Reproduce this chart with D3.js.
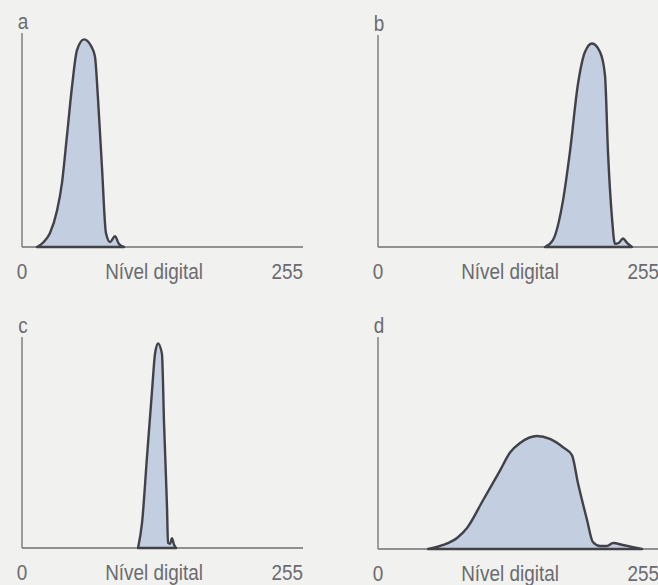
<!DOCTYPE html>
<html>
<head>
<meta charset="utf-8">
<script src="https://cdn.jsdelivr.net/npm/d3@7"></script>
<style>
  html, body { margin: 0; padding: 0; background: #f1f1f0; }
  svg { display: block; }
  text { font-family: "Liberation Sans", Arial, sans-serif; fill: #6b6b6e; }
</style>
</head>
<body>
<div id="plot"></div>
<script>
// histogram outlines, digital number vs relative frequency (% of axis height)
const dnA = [13.6, 19, 25.4, 31.8, 36.3, 40.8, 45.4, 49.9, 56.3, 62.6, 66.2, 69, 72.6, 76.2, 79.9, 84.4, 88, 92.6];
const freqA = [0, 2, 6.5, 17, 30, 52, 75, 92, 97, 94, 89, 69, 37, 6.5, 2.3, 5, 1.4, 0];

const dnB = [151.5, 158.8, 167.9, 174.2, 181.5, 187.8, 194.2, 201.5, 206, 208.7, 212.3, 215, 218.7, 222.3, 226, 230.5];
const freqB = [0, 3.3, 22, 45, 77, 92, 96, 92, 81, 45, 14, 1.5, 2, 4, 2, 0];

const dnC = [105.3, 108.9, 113.4, 118, 120.7, 123.4, 127, 128.9, 131.6, 132.5, 134.3, 136.1, 138, 139.8];
const freqC = [0, 11.8, 43, 74.5, 92, 97, 92, 59, 19.3, 2.4, 2, 4.7, 1.5, 0];

const dnD = [45.4, 59, 71.7, 80.8, 95.3, 110.7, 119.8, 128.9, 144.3, 156, 167.9, 176, 181.5, 189.7, 195, 201.5, 207.8, 213.3, 222.3, 231.4, 239.6];
const freqD = [0, 1.9, 5.2, 9.9, 23, 37, 45.5, 50, 53.3, 51.9, 48, 44.3, 31, 13.7, 3.3, 1.4, 1.4, 2.8, 1.9, 0.9, 0];

const panelNames = ["a", "b", "c", "d"];
const xTicks = [0, 255];
const axisTitle = "Nível digital";

const W = 658, H = 585;
const panels = [
    { name: panelNames[0], dn: dnA, freq: freqA, x0: 22, y0: 247, top: 33 },
    { name: panelNames[1], dn: dnB, freq: freqB, x0: 378, y0: 247, top: 35 },
    { name: panelNames[2], dn: dnC, freq: freqC, x0: 22, y0: 548, top: 337 },
    { name: panelNames[3], dn: dnD, freq: freqD, x0: 378, y0: 549, top: 337 }
];
const axisW = 281;
const squeeze = 0.86; // the print uses a condensed face

const svg = d3.select("#plot").append("svg")
    .attr("width", W)
    .attr("height", H);

const label = function (g, x, y, txt, anchor, size) {
    g.append("text")
        .attr("transform", `translate(${x},${y}) scale(${squeeze},1)`)
        .attr("text-anchor", anchor)
        .attr("font-size", size)
        .text(txt);
}

panels.forEach(p => {
    const x = d3.scaleLinear().domain([0, 255]).range([p.x0, p.x0 + axisW]);
    const y = d3.scaleLinear().domain([0, 100]).range([p.y0, p.top]);
    const g = svg.append("g");

    // axes as plain lines
    g.append("line")
        .attr("x1", x(0)).attr("x2", x(0))
        .attr("y1", y(0)).attr("y2", y(100))
        .attr("stroke", "#6f6f72").attr("stroke-width", 1.3);
    g.append("line")
        .attr("x1", x(0)).attr("x2", x(255))
        .attr("y1", y(0)).attr("y2", y(0))
        .attr("stroke", "#6f6f72").attr("stroke-width", 1.3);

    const pts = p.dn.map((d, i) => [d, p.freq[i]]);
    const area = d3.area()
        .x(d => x(d[0]))
        .y0(y(0))
        .y1(d => y(d[1]))
        .curve(d3.curveMonotoneX);

    g.append("path")
        .datum(pts)
        .attr("d", area)
        .attr("fill", "#c3cee0")
        .attr("stroke", "#414148")
        .attr("stroke-width", 2.4)
        .attr("stroke-linejoin", "round");

    label(g, x(0) + 1, p.top - 4, p.name, "middle", 22);

    const ly = y(0) + 32;
    label(g, x(xTicks[0]), ly, xTicks[0], "middle", 22);
    label(g, x(xTicks[1]), ly, xTicks[1], "end", 22);
    label(g, x(0) + 132, ly, axisTitle, "middle", 22);
});
</script>
</body>
</html>
